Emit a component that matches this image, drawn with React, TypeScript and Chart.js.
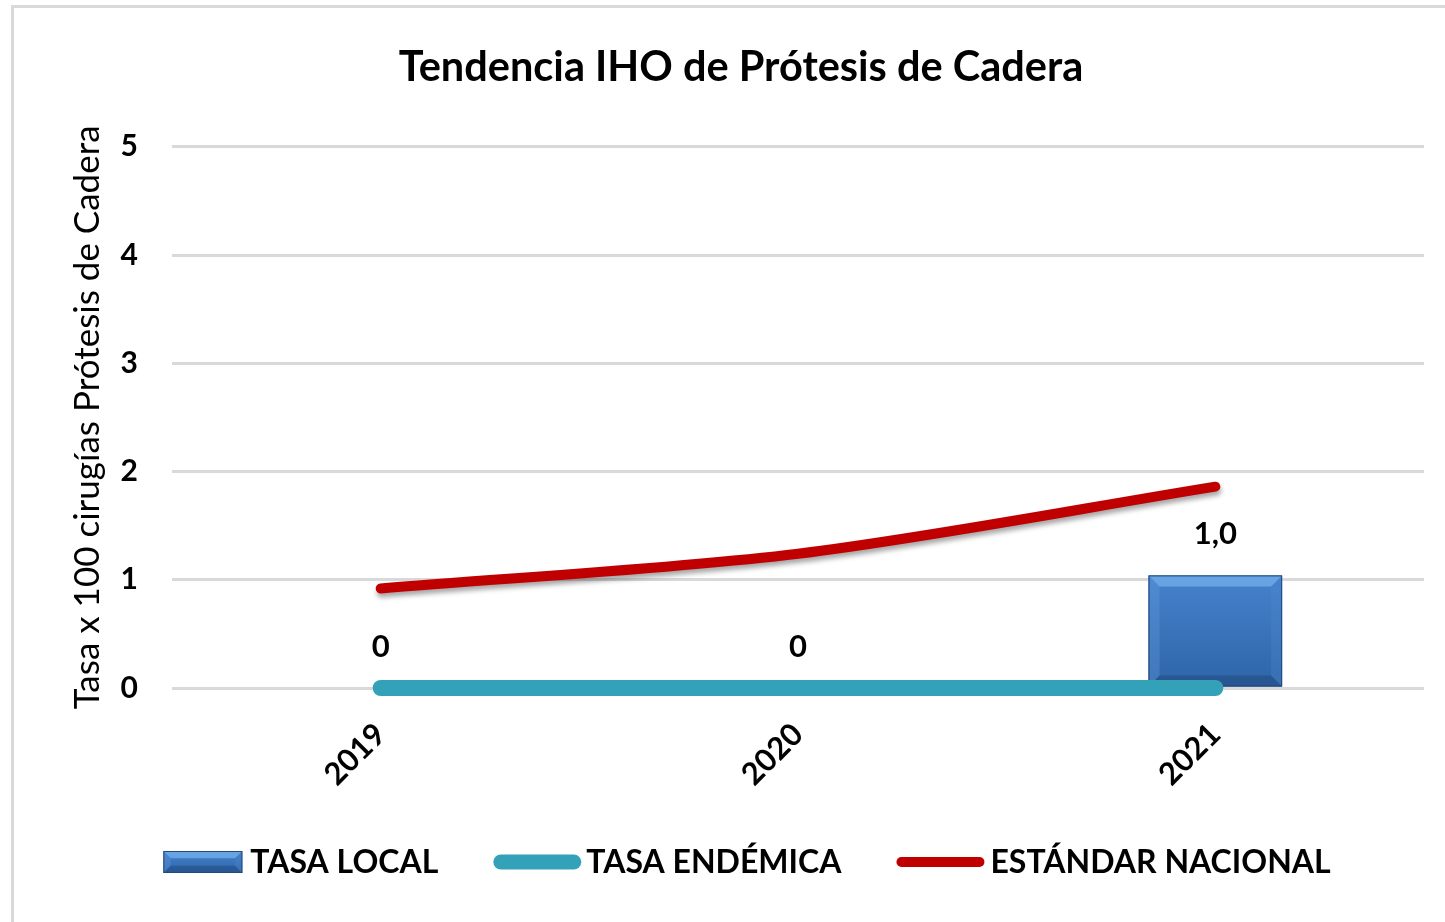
import React, { useEffect, useRef } from "react";
import { Chart, registerables } from "chart.js";

Chart.register(...registerables);

const chartTitle = "Tendencia IHO de Prótesis de Cadera";
const yAxisTitle = "Tasa x 100 cirugías Prótesis de Cadera";
const categories = ["2019", "2020", "2021"];
const tasaLocal = [0, 0, 1.04];
const tasaEndemica = [0, 0, 0];
const estandarNacional = [0.92, 1.24, 1.86];
const seriesNames = ["TASA LOCAL", "TASA ENDÉMICA", "ESTÁNDAR NACIONAL"];
const yMin = 0;
const yMax = 5;
const yStep = 1;

const FONT = "Lato, 'Noto Sans', sans-serif";
const TEAL = "#33a2b8";
const RED = "#c00000";

function formatLabel(v: number): string {
  if (v === 0) return "0";
  return v.toFixed(1).replace(".", ",");
}

function drawBevelBar(ctx: CanvasRenderingContext2D, left: number, top: number, width: number, height: number) {
  const right = left + width;
  const bottom = top + height;
  const g = ctx.createLinearGradient(0, top, 0, bottom);
  g.addColorStop(0, "#4582cc");
  g.addColorStop(1, "#2f65a8");
  ctx.save();
  ctx.fillStyle = g;
  ctx.fillRect(left, top, width, height);
  const b = Math.min(11, height / 3, width / 4);
  // top bevel
  ctx.fillStyle = "rgba(120,180,240,0.7)";
  ctx.beginPath();
  ctx.moveTo(left, top);
  ctx.lineTo(right, top);
  ctx.lineTo(right - b, top + b);
  ctx.lineTo(left + b, top + b);
  ctx.closePath();
  ctx.fill();
  // left bevel
  ctx.fillStyle = "rgba(100,155,220,0.35)";
  ctx.beginPath();
  ctx.moveTo(left, top);
  ctx.lineTo(left + b, top + b);
  ctx.lineTo(left + b, bottom - b);
  ctx.lineTo(left, bottom);
  ctx.closePath();
  ctx.fill();
  // right bevel
  ctx.fillStyle = "rgba(80,135,205,0.3)";
  ctx.beginPath();
  ctx.moveTo(right, top);
  ctx.lineTo(right - b, top + b);
  ctx.lineTo(right - b, bottom - b);
  ctx.lineTo(right, bottom);
  ctx.closePath();
  ctx.fill();
  // bottom bevel
  ctx.fillStyle = "rgba(20,50,95,0.3)";
  ctx.beginPath();
  ctx.moveTo(left, bottom);
  ctx.lineTo(right, bottom);
  ctx.lineTo(right - b, bottom - b);
  ctx.lineTo(left + b, bottom - b);
  ctx.closePath();
  ctx.fill();
  ctx.strokeStyle = "#24497a";
  ctx.lineWidth = 1;
  ctx.strokeRect(left + 0.5, top + 0.5, width - 1, height - 1);
  ctx.restore();
}

const barStylePlugin = {
  id: "barStyle",
  afterDatasetDraw(chart: any, args: any) {
    if (args.index !== 0) return;
    const ctx = chart.ctx;
    const meta = chart.getDatasetMeta(0);
    meta.data.forEach((el: any) => {
      const h = el.base - el.y;
      if (h < 2) return;
      drawBevelBar(ctx, el.x - el.width / 2, el.y, el.width, h);
    });
  },
};

const shadowPlugin = {
  id: "lineShadow",
  beforeDatasetDraw(chart: any, args: any) {
    if (args.index !== 2) return;
    const ctx = chart.ctx;
    ctx.save();
    ctx.shadowColor = "rgba(0,0,0,0.35)";
    ctx.shadowBlur = 5;
    ctx.shadowOffsetY = 4;
    ctx.shadowOffsetX = 1;
  },
  afterDatasetDraw(chart: any, args: any) {
    if (args.index !== 2) return;
    chart.ctx.restore();
  },
};

const dataLabelPlugin = {
  id: "dataLabels",
  afterDatasetsDraw(chart: any) {
    const ctx = chart.ctx;
    const meta = chart.getDatasetMeta(0);
    ctx.save();
    ctx.font = `bold 31px ${FONT}`;
    ctx.fillStyle = "#000";
    ctx.textAlign = "center";
    ctx.textBaseline = "middle";
    meta.data.forEach((el: any, i: number) => {
      ctx.fillText(formatLabel(tasaLocal[i]), el.x, el.y - 41);
    });
    ctx.restore();
  },
};

const legendPlugin = {
  id: "customLegend",
  afterDraw(chart: any) {
    const ctx = chart.ctx;
    ctx.save();
    ctx.font = `bold 32px ${FONT}`;
    ctx.textBaseline = "middle";
    ctx.fillStyle = "#000";
    const swatchW = [79, 88, 88];
    const gapAfter = [8, 5, 6];
    const between = 55;
    const widths = seriesNames.map((n, i) => swatchW[i] + gapAfter[i] + ctx.measureText(n).width);
    const total = widths.reduce((a, b) => a + b, 0) + between * (seriesNames.length - 1);
    const cx = (chart.chartArea.left + chart.chartArea.right) / 2 - 51;
    const y = chart.chartArea.bottom + 174;
    let x = cx - total / 2;
    seriesNames.forEach((name, i) => {
      if (i === 0) {
        drawBevelBar(ctx, x, y - 11, 79, 22);
      } else {
        ctx.save();
        ctx.strokeStyle = i === 1 ? TEAL : RED;
        ctx.lineWidth = i === 1 ? 15 : 10;
        ctx.lineCap = "round";
        const r = ctx.lineWidth / 2;
        ctx.beginPath();
        ctx.moveTo(x + r, y);
        ctx.lineTo(x + swatchW[i] - r, y);
        ctx.stroke();
        ctx.restore();
      }
      ctx.fillStyle = "#000";
      ctx.textAlign = "left";
      ctx.fillText(name, x + swatchW[i] + gapAfter[i], y + 1);
      x += widths[i] + between;
    });
    ctx.restore();
  },
};

export default function App() {
  const ref = useRef<HTMLCanvasElement | null>(null);

  useEffect(() => {
    if (!ref.current) return;
    const chart = new Chart(ref.current, {
      type: "bar",
      data: {
        labels: categories,
        datasets: [
          {
            type: "bar",
            label: seriesNames[0],
            data: tasaLocal,
            backgroundColor: "#3a74bc",
            borderColor: "#24497a",
            borderWidth: 0,
            barPercentage: 0.32,
            categoryPercentage: 1,
            order: 3,
          },
          {
            type: "line",
            label: seriesNames[1],
            data: tasaEndemica,
            borderColor: TEAL,
            backgroundColor: TEAL,
            borderWidth: 16,
            borderCapStyle: "round",
            pointRadius: 0,
            clip: false,
            order: 2,
          },
          {
            type: "line",
            label: seriesNames[2],
            data: estandarNacional,
            borderColor: RED,
            backgroundColor: RED,
            borderWidth: 10,
            borderCapStyle: "round",
            borderJoinStyle: "round",
            tension: 0.3,
            pointRadius: 0,
            clip: false,
            order: 1,
          },
        ],
      },
      options: {
        animation: false,
        responsive: true,
        maintainAspectRatio: false,
        layout: { padding: { left: 58, right: 21, top: 0, bottom: 104 } },
        plugins: {
          legend: { display: false },
          tooltip: { enabled: false },
          title: {
            display: true,
            text: chartTitle,
            color: "#000",
            font: { family: FONT, size: 41.5, weight: "bold" },
            padding: { top: 43, bottom: 54 },
          },
        },
        scales: {
          x: {
            offset: true,
            grid: { display: false },
            border: { display: false },
            ticks: {
              color: "#000",
              font: { family: FONT, size: 31, weight: "bold" },
              minRotation: 45,
              maxRotation: 45,
              padding: 20,
            },
            afterFit: (s: any) => {
              s.height = 130;
            },
          },
          y: {
            min: yMin,
            max: yMax,
            ticks: {
              stepSize: yStep,
              color: "#000",
              padding: 34,
              font: { family: FONT, size: 30, weight: "bold" },
            },
            grid: { color: "#d9d9d9", lineWidth: 3, drawTicks: false },
            border: { display: false },
            title: {
              display: true,
              text: yAxisTitle,
              color: "#000",
              font: { family: FONT, size: 35 },
              padding: { top: 9, bottom: 0 },
            },
            afterFit: (s: any) => {
              s.width = 114;
            },
          },
        },
      },
      plugins: [barStylePlugin, shadowPlugin, dataLabelPlugin, legendPlugin],
    } as any);
    return () => chart.destroy();
  }, []);

  return (
    <div style={{ position: "absolute", left: 0, top: 0, width: 1445, height: 922, background: "#fff", overflow: "hidden" }}>
      <div
        style={{
          position: "absolute",
          left: 11,
          top: 5,
          width: 1460,
          height: 940,
          border: "3px solid #d9d9d9",
          boxSizing: "border-box",
          pointerEvents: "none",
        }}
      />
      <canvas ref={ref} style={{ position: "absolute", left: 0, top: 0, width: 1445, height: 922 }} />
    </div>
  );
}
